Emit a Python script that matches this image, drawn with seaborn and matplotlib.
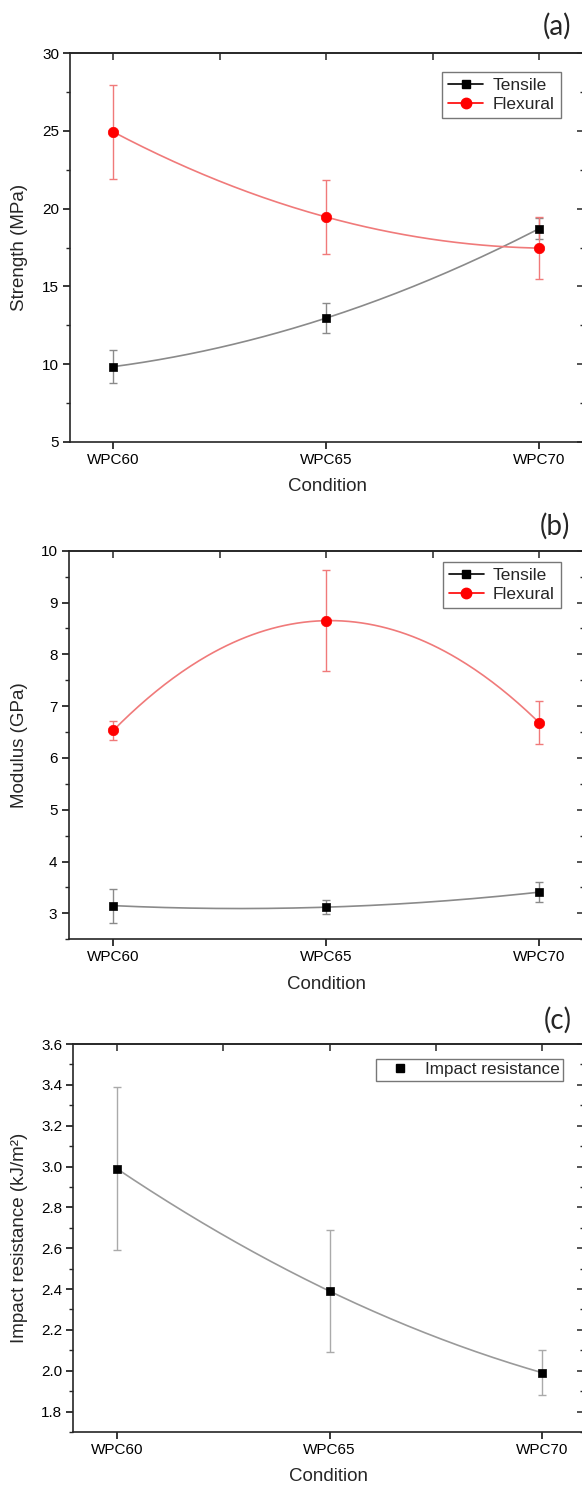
import numpy as np
import matplotlib
matplotlib.use("Agg")
import matplotlib.pyplot as plt
from matplotlib.lines import Line2D
from matplotlib.ticker import MultipleLocator, NullFormatter, FormatStrFormatter
import seaborn as sns

# data
conditions = ["WPC60", "WPC65", "WPC70"]

tensile_strength = [9.83, 12.96, 18.72]
tensile_strength_err = [1.05, 0.98, 0.70]
flexural_strength = [24.94, 19.46, 17.46]
flexural_strength_err = [3.05, 2.40, 2.00]

tensile_modulus = [3.15, 3.12, 3.41]
tensile_modulus_err = [0.33, 0.13, 0.19]
flexural_modulus = [6.53, 8.65, 6.68]
flexural_modulus_err = [0.18, 0.98, 0.42]

impact = [2.99, 2.39, 1.99]
impact_err = [0.40, 0.30, 0.11]

sns.set_style("ticks")
plt.rcParams["font.family"] = ["Liberation Sans", "DejaVu Sans"]

W, H = 582, 1491
fig = plt.figure(figsize=(W / 100, H / 100), dpi=100)

GREY = "#8a8a8a"
LRED = "#f07a7a"
RED = "#ff0000"


def make_axes(left, top, bottom, tick0, unit, right=584):
    ax = fig.add_axes([left / W, 1 - bottom / H, (right - left) / W, (bottom - top) / H])
    ax.set_xlim((left - tick0) / unit, (right - tick0) / unit)
    return ax


def smooth(ax, y, color, lw=1.2):
    x = np.arange(len(y))
    coef = np.polyfit(x, y, 2)
    xs = np.linspace(x[0], x[-1], 200)
    sns.lineplot(x=xs, y=np.polyval(coef, xs), ax=ax, color=color, lw=lw, zorder=2)


def points(ax, y, err, ecolor, mcolor, marker, ms):
    x = np.arange(len(y))
    ax.errorbar(x, y, yerr=err, fmt="none", ecolor=ecolor, elinewidth=1.0,
                capsize=3.2, capthick=1.0, zorder=3)
    sns.scatterplot(x=x, y=y, ax=ax, color=mcolor, marker=marker, s=ms ** 2,
                    edgecolor=mcolor, linewidth=0.5, zorder=4)


def style(ax, left_px, ylo, yhi, major, minor, ylabel, fmt=None):
    ax.set_ylim(ylo, yhi)
    ax.set_xticks(range(len(conditions)))
    ax.set_xticklabels(conditions)
    ax.yaxis.set_major_locator(MultipleLocator(major))
    ax.yaxis.set_minor_locator(MultipleLocator(minor))
    if fmt:
        ax.yaxis.set_major_formatter(FormatStrFormatter(fmt))
    for s in ax.spines.values():
        s.set_linewidth(1.2)
        s.set_visible(True)
    ax.tick_params(axis="both", which="major", direction="out", length=5, width=1.1,
                   labelsize=11, pad=3, top=False, right=False, colors="black")
    ax.tick_params(axis="y", which="minor", direction="out", length=3, width=1.0, right=False)
    ax.tick_params(axis="x", which="minor", bottom=False)
    top = ax.secondary_xaxis("top")
    top.set_xticks([0, 0.5, 1, 1.5, 2])
    top.xaxis.set_major_formatter(NullFormatter())
    top.tick_params(direction="in", length=5, width=1.1)
    top.spines["top"].set_linewidth(1.2)
    rgt = ax.secondary_yaxis("right")
    rgt.yaxis.set_major_locator(MultipleLocator(major))
    rgt.yaxis.set_minor_locator(MultipleLocator(minor))
    rgt.yaxis.set_major_formatter(NullFormatter())
    rgt.tick_params(which="major", direction="in", length=5, width=1.1)
    rgt.tick_params(which="minor", direction="in", length=3, width=1.0)
    ax.set_xlabel("Condition", fontsize=13.5, labelpad=8)
    ax.set_ylabel(ylabel, fontsize=13.5)
    ax.yaxis.set_label_coords((28 - left_px) / (584 - left_px), 0.5)


def legend2(ax, right_px, top_px):
    handles = [
        Line2D([], [], color="black", marker="s", ms=6, lw=1.2),
        Line2D([], [], color=RED, marker="o", ms=7.5, lw=1.2),
    ]
    ax.legend(handles, ["Tensile", "Flexural"], loc="upper right",
              bbox_to_anchor=(right_px / W, 1 - top_px / H), bbox_transform=fig.transFigure,
              borderaxespad=0, fancybox=False, edgecolor="#777777", framealpha=1,
              fontsize=12.5, handlelength=2.0, handletextpad=0.55, borderpad=0.35,
              labelspacing=0.2)


def panel_tag(x_px, y_px, tag):
    fig.text(x_px / W, 1 - y_px / H, tag, fontsize=20, ha="center", va="center",
             family=["Lato", "DejaVu Sans"])


# (a) strength
ax_a = make_axes(70.3, 53.3, 441.7, 113.3, 213.0)
smooth(ax_a, tensile_strength, GREY)
smooth(ax_a, flexural_strength, LRED)
points(ax_a, tensile_strength, tensile_strength_err, GREY, "black", "s", 6)
points(ax_a, flexural_strength, flexural_strength_err, LRED, RED, "o", 7.5)
style(ax_a, 70.3, 5, 30, 5, 2.5, "Strength (MPa)")
legend2(ax_a, 560.5, 72)
panel_tag(557, 26, "(a)")

# (b) modulus
ax_b = make_axes(68.5, 550.7, 939.3, 113.2, 213.0)
smooth(ax_b, tensile_modulus, GREY)
smooth(ax_b, flexural_modulus, LRED)
points(ax_b, tensile_modulus, tensile_modulus_err, GREY, "black", "s", 6)
points(ax_b, flexural_modulus, flexural_modulus_err, LRED, RED, "o", 7.5)
style(ax_b, 68.5, 2.5, 10, 1, 0.5, "Modulus (GPa)")
legend2(ax_b, 561, 562)
panel_tag(555, 526, "(b)")

# (c) impact resistance
ax_c = make_axes(73.3, 1044.0, 1432.0, 116.7, 212.8)
smooth(ax_c, impact, "#9a9a9a")
points(ax_c, impact, impact_err, "#aaaaaa", "black", "s", 6)
style(ax_c, 73.3, 1.7, 3.6, 0.2, 0.1, "Impact resistance (kJ/m²)", fmt="%.1f")
ax_c.legend([Line2D([], [], color="black", marker="s", ms=6, lw=0)], ["Impact resistance"],
            loc="upper right", bbox_to_anchor=(563.3 / W, 1 - 1059 / H),
            bbox_transform=fig.transFigure, borderaxespad=0, fancybox=False,
            edgecolor="#777777", framealpha=1, fontsize=12.3, handlelength=2.4,
            handletextpad=0.25, borderpad=0.2)
panel_tag(558, 1020, "(c)")

fig.savefig("out.png", dpi=100)
